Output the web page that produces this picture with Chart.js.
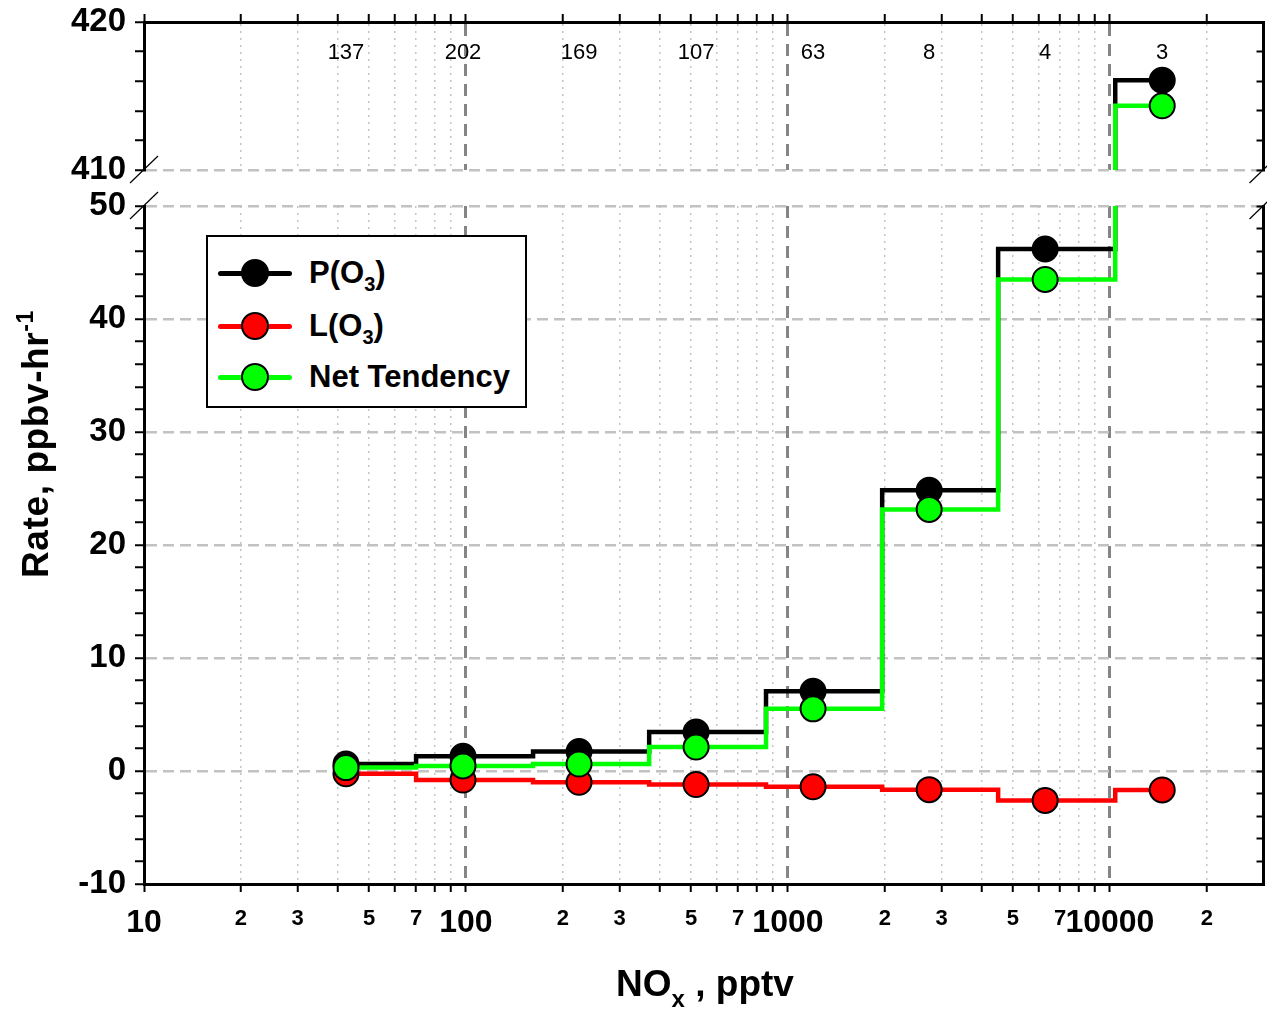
<!DOCTYPE html>
<html>
<head>
<meta charset="utf-8">
<title>Ozone production and loss vs NOx</title>
<script src="https://cdn.jsdelivr.net/npm/chart.js@4.4.1/dist/chart.umd.min.js"></script>
<style>
  body { margin: 0; background: #fff; font-family: "Liberation Sans", Arial, sans-serif; }
  #wrap { position: relative; width: 1267px; height: 1010px; overflow: hidden; background: #fff; }
  #wrap canvas { position: absolute; left: 0; top: 0; }
  .ytitle {
    position: absolute; left: -164px; top: 424px; width: 400px; height: 40px;
    line-height: 40px; text-align: center; font-weight: bold; font-size: 37px; letter-spacing: 0.6px;
    transform: rotate(-90deg); white-space: nowrap;
  }
  .ytitle sup { font-size: 23px; vertical-align: 15px; line-height: 0; }
  .xtitle {
    position: absolute; left: 455px; top: 964px; width: 500px; height: 40px;
    line-height: 40px; text-align: center; font-weight: bold; font-size: 37px; white-space: nowrap;
  }
  .xtitle sub { font-size: 24px; vertical-align: -11px; line-height: 0; }
  #legend {
    position: absolute; left: 206px; top: 235px; width: 317px; height: 169px;
    border: 2px solid #000; background: #fff;
  }
  #legend .row { position: absolute; left: 0; height: 0; }
  #legend .ln { position: absolute; left: 10px; top: -2.5px; width: 74px; height: 5px; border-radius: 2.5px; }
  #legend .dot { position: absolute; left: 33px; top: -14px; width: 24px; height: 24px; border: 2px solid #000; border-radius: 50%; }
  #legend .lbl {
    position: absolute; left: 101px; top: -18px; line-height: 36px; font-weight: bold;
    font-size: 31px; white-space: nowrap;
  }
  #legend .lbl sub { font-size: 20px; vertical-align: -8px; line-height: 0; }
</style>
</head>
<body>
<div id="wrap">
  <canvas id="lower" width="1278" height="1010"></canvas>
  <canvas id="upper" width="1278" height="200"></canvas>
  <div class="ytitle">Rate, ppbv-hr<sup>-1</sup></div>
  <div class="xtitle">NO<sub>x</sub> , pptv</div>
  <div id="legend">
    <div class="row" style="top:36px"><i class="ln" style="background:#000"></i><i class="dot" style="background:#000"></i><span class="lbl">P(O<sub>3</sub>)</span></div>
    <div class="row" style="top:89px"><i class="ln" style="background:#ff0000"></i><i class="dot" style="background:#ff0000"></i><span class="lbl">L(O<sub>3</sub>)</span></div>
    <div class="row" style="top:140px"><i class="ln" style="background:#00ff00"></i><i class="dot" style="background:#00ff00"></i><span class="lbl">Net Tendency</span></div>
  </div>
</div>
<script>
// bin centres (pptv), bin edges where the steps happen, and rates (ppbv/hr)
const noxMid = [42.4, 97.9, 224.5, 518.5, 1197, 2746, 6295, 14540];
const noxEdge = [70.0, 161.6, 370.7, 855, 1962, 4497, 10390];
const prodO3 = [0.62, 1.3, 1.72, 3.45, 7.05, 24.85, 46.2, 416.06];
const lossO3 = [-0.25, -0.8, -1.0, -1.2, -1.4, -1.65, -2.6, -1.68];
const netO3 = [0.3, 0.45, 0.62, 2.12, 5.5, 23.15, 43.5, 414.34];
const binCounts = [137, 202, 169, 107, 63, 8, 4, 3];

const xTicks = [10, 20, 30, 40, 50, 60, 70, 80, 90,
  100, 200, 300, 400, 500, 600, 700, 800, 900,
  1000, 2000, 3000, 4000, 5000, 6000, 7000, 8000, 9000,
  10000, 20000];
const xTickLabels = ['10', '2', '3', '', '5', '', '7', '', '',
  '100', '2', '3', '', '5', '', '7', '', '',
  '1000', '2', '3', '', '5', '', '7', '', '',
  '10000', '2'];
const yTicksLow = [-10, -8, -6, -4, -2, 0, 2, 4, 6, 8, 10, 12, 14, 16, 18, 20, 22, 24, 26, 28,
  30, 32, 34, 36, 38, 40, 42, 44, 46, 48, 50];
const yTicksHigh = [410, 412, 414, 416, 418, 420];

Chart.defaults.font.family = '"Liberation Sans", Arial, sans-serif';
Chart.defaults.color = '#000';

const clear = 'rgba(0,0,0,0)';
const isDecade = (i) => i !== undefined && (xTickLabels[i] || '').length > 1;

const series = [
  { vals: lossO3, color: '#ff0000' },
  { vals: prodO3, color: '#000000' },
  { vals: netO3, color: '#00ff00' },
];

function stepLine(vals) {
  const pts = [{ x: noxMid[0], y: vals[0] }];
  noxEdge.forEach((edge, i) => pts.push({ x: edge, y: vals[i + 1] }));
  pts.push({ x: noxMid[noxMid.length - 1], y: vals[vals.length - 1] });
  return pts;
}

function buildDatasets() {
  let ds = [];
  series.forEach((s, i) => {
    ds.push({
      data: stepLine(s.vals), borderColor: s.color, borderWidth: 4.5,
      stepped: 'before', pointRadius: 0, order: 10 - i
    });
  });
  series.forEach((s, i) => {
    ds.push({
      data: noxMid.map((x, k) => ({ x: x, y: s.vals[k] })), showLine: false,
      pointRadius: 12.5, pointBorderWidth: 2, pointBorderColor: '#000',
      pointBackgroundColor: s.color, order: 5 - i
    });
  });
  return ds;
}

function xAxis(top) {
  return {
    type: 'logarithmic',
    position: top ? 'top' : 'bottom',
    min: 10,
    max: 30000,
    afterBuildTicks: (s) => { s.ticks = xTicks.map(v => ({ value: v })); },
    afterFit: (s) => { s.height = top ? 22 : 126; },
    ticks: {
      display: !top,
      autoSkip: false,
      maxRotation: 0,
      minRotation: 0,
      padding: 12,
      color: '#000',
      callback: (v, i) => xTickLabels[i],
      font: (ctx) => isDecade(ctx.index)
        ? { size: 32, weight: 'bold' }
        : { size: 22, weight: 'bold', lineHeight: 1.4 }
    },
    grid: {
      color: (ctx) => ctx.index === 0 ? clear : (isDecade(ctx.index) ? '#858585' : '#c4c4c4'),
      lineWidth: (ctx) => isDecade(ctx.index) ? 3 : 1.5,
      tickLength: 8,
      tickColor: '#000',
      tickWidth: 2
    },
    border: {
      color: '#000',
      width: 3,
      dash: (ctx) => isDecade(ctx.index) ? [12, 8] : [2, 5]
    }
  };
}

function yAxis(min, max, ticks, edge) {
  return {
    type: 'linear',
    position: 'left',
    min: min,
    max: max,
    afterBuildTicks: (s) => { s.ticks = ticks.map(v => ({ value: v })); },
    afterFit: (s) => { s.width = 144; },
    ticks: {
      autoSkip: false,
      padding: 9,
      color: '#000',
      font: { size: 33, weight: 'bold', lineHeight: 0.7 },
      callback: (v) => v % 10 === 0 ? String(v) : ''
    },
    grid: {
      color: (ctx) => {
        const v = ctx.tick ? ctx.tick.value : null;
        return (v % 10 === 0 && v !== edge) ? '#c2c2c2' : clear;
      },
      lineWidth: 2.5,
      tickLength: 9,
      tickColor: '#000',
      tickWidth: 2
    },
    border: { color: '#000', width: 3, dash: [11, 6] }
  };
}

function yRight(min, max, ticks) {
  return {
    type: 'linear',
    position: 'right',
    min: min,
    max: max,
    afterBuildTicks: (s) => { s.ticks = ticks.map(v => ({ value: v })); },
    afterFit: (s) => { s.width = 0; },
    ticks: { display: false },
    grid: { drawOnChartArea: false, color: clear, tickLength: -7, tickColor: '#000', tickWidth: 2 },
    border: { color: '#000', width: 3 }
  };
}

// little "//" marks where the y axis is broken
const breakMarks = {
  id: 'breakMarks',
  afterDraw(chart) {
    const { ctx, chartArea } = chart;
    const ys = [chartArea.top - 36, chartArea.top];
    ctx.save();
    ctx.strokeStyle = '#000';
    ctx.lineWidth = 1.2;
    [chartArea.left, chartArea.right].forEach(x => {
      ys.forEach(y => {
        ctx.beginPath();
        ctx.moveTo(x - 14, y + 13);
        ctx.lineTo(x + 14, y - 14);
        ctx.stroke();
      });
    });
    ctx.restore();
  }
};

// number of samples in each NOx bin
const binLabels = {
  id: 'binLabels',
  afterDraw(chart) {
    const { ctx } = chart;
    const xs = chart.scales.x;
    ctx.save();
    ctx.font = '22px "Liberation Sans", Arial, sans-serif';
    ctx.fillStyle = '#000';
    ctx.textAlign = 'center';
    ctx.textBaseline = 'middle';
    binCounts.forEach((n, i) => ctx.fillText(String(n), xs.getPixelForValue(noxMid[i]), 53));
    ctx.restore();
  }
};

const baseOptions = {
  responsive: false,
  animation: false,
  events: [],
  plugins: { legend: { display: false }, tooltip: { enabled: false } }
};

new Chart(document.getElementById('lower'), {
  type: 'line',
  data: { datasets: buildDatasets() },
  options: Object.assign({}, baseOptions, {
    layout: { padding: { top: 206, left: 0, right: 4, bottom: 0 } },
    scales: {
      x: xAxis(false),
      y: yAxis(-10, 50, yTicksLow, -10),
      yR: yRight(-10, 50, yTicksLow)
    }
  }),
  plugins: [breakMarks]
});

new Chart(document.getElementById('upper'), {
  type: 'line',
  data: { datasets: buildDatasets() },
  options: Object.assign({}, baseOptions, {
    layout: { padding: { top: 0, left: 0, right: 4, bottom: 30 } },
    scales: {
      x: xAxis(true),
      y: yAxis(410, 420, yTicksHigh, 420),
      yR: yRight(410, 420, yTicksHigh)
    }
  }),
  plugins: [binLabels]
});
</script>
</body>
</html>
